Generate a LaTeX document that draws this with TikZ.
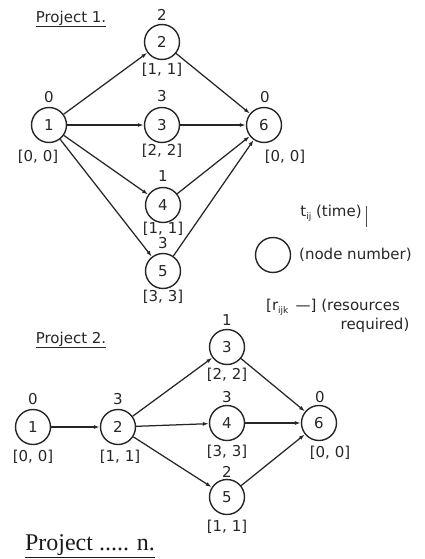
\documentclass[tikz,border=0pt]{standalone}
\usepackage{fontspec}
\setmainfont{DejaVu Sans}
\newfontfamily\serifp{Liberation Serif}
\usetikzlibrary{arrows.meta}
\begin{document}
\begin{tikzpicture}[x=1pt,y=-1pt,
  nd/.style={circle,draw=black!85,line width=1.4pt,minimum size=35pt,inner sep=0pt,font=\fontsize{15}{15}\selectfont,text=black!85},
  lb/.style={inner sep=0pt,font=\fontsize{15}{15}\selectfont,text=black!85},
  ar/.style={draw=black!85,line width=1.25pt,-{Latex[length=6pt,width=4pt]}},
  ttl/.style={inner sep=0pt,font=\fontsize{15}{15}\selectfont,text=black!85}]
\useasboundingbox (0,0) rectangle (424,559);
\newcommand{\smsub}[1]{\raisebox{-0.35ex}{\fontsize{9}{9}\selectfont #1}}

% ---------- Project 1 ----------
\node[ttl] (t1) at (71,19) {\underline{Project 1.}};
\node[nd] (a1) at (49,125) {1};
\node[nd] (a2) at (162,42) {2};
\node[nd] (a3) at (162,125) {3};
\node[nd] (a4) at (163,205) {4};
\node[nd] (a5) at (163,271) {5};
\node[nd] (a6) at (264,125) {6};

\node[lb] (a1t) at (49,97) {0};
\node[lb] (a1r) at (38,157) {[0, 0]};
\node[lb] (a2t) at (162,15) {2};
\node[lb] (a2r) at (162,70) {[1, 1]};
\node[lb] (a3t) at (162,96) {3};
\node[lb] (a3r) at (162,151) {[2, 2]};
\node[lb] (a4t) at (163,176) {1};
\node[lb] (a4r) at (163,229) {[1, 1]};
\node[lb] (a5t) at (163,243) {3};
\node[lb] (a5r) at (163,297) {[3, 3]};
\node[lb] (a6t) at (265,97) {0};
\node[lb] (a6r) at (285,157) {[0, 0]};

\draw[ar] (a1) -- (a2);
\draw[ar] (a1) -- (a3);
\draw[ar] (a1) -- (a4);
\draw[ar] (a1) -- (a5);
\draw[ar] (a2) -- (a6);
\draw[ar] (a3) -- (a6);
\draw[ar] (a4) -- (a6);
\draw[ar] (a5) -- (a6);

% ---------- Legend ----------
\node[lb] (lt) at (331,213) {t\smsub{ij} (time)};
\coordinate (barTop) at (366,206);
\coordinate (barBot) at (366,227);
\draw[black!70,line width=0.8pt] (barTop) -- (barBot);
\node[nd] (lc) at (273,255) {};
\node[lb,anchor=west] (ln) at (299,255) {(node number)};
\node[lb,anchor=west] (lr) at (266,307) {[r\smsub{ijk} \,---] (resources};
\node[lb] (lr2) at (375,325) {required)};

% ---------- Project 2 ----------
\node[ttl] (t2) at (71,340) {\underline{Project 2.}};
\node[nd] (b1) at (33,427) {1};
\node[nd] (b2) at (118,427) {2};
\node[nd] (b3) at (227,347) {3};
\node[nd] (b4) at (227,423) {4};
\node[nd] (b5) at (227,497) {5};
\node[nd] (b6) at (319,423) {6};

\node[lb] (b1t) at (33,399) {0};
\node[lb] (b1r) at (33,457) {[0, 0]};
\node[lb] (b2t) at (118,399) {3};
\node[lb] (b2r) at (120,457) {[1, 1]};
\node[lb] (b3t) at (227,320) {1};
\node[lb] (b3r) at (227,375) {[2, 2]};
\node[lb] (b4t) at (227,397) {3};
\node[lb] (b4r) at (227,452) {[3, 3]};
\node[lb] (b5t) at (227,472) {2};
\node[lb] (b5r) at (227,527) {[1, 1]};
\node[lb] (b6t) at (320,397) {0};
\node[lb] (b6r) at (330,453) {[0, 0]};

\draw[ar] (b1) -- (b2);
\draw[ar] (b2) -- (b3);
\draw[ar] (b2) -- (b4);
\draw[ar] (b2) -- (b5);
\draw[ar] (b3) -- (b6);
\draw[ar] (b4) -- (b6);
\draw[ar] (b5) -- (b6);

% ---------- Project n ----------
\node[inner sep=0pt,font=\serifp\fontsize{24}{24}\selectfont,text=black!90] (tn) at (90,546) {\underline{Project ..... n.}};
\end{tikzpicture}
\end{document}
